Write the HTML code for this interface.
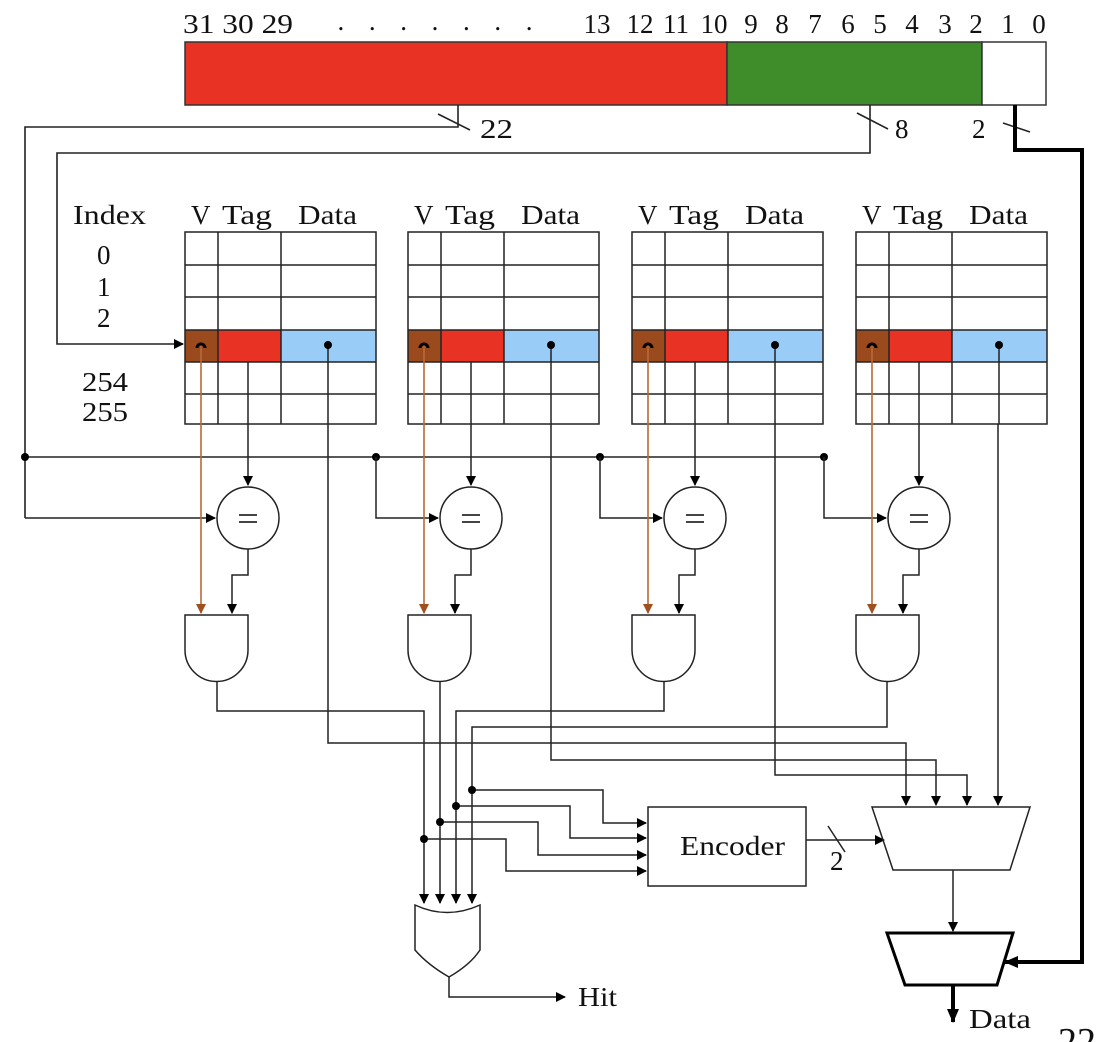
<!DOCTYPE html>
<html><head><meta charset="utf-8"><style>
html,body{margin:0;padding:0;background:#fff;}
svg{display:block;font-family:"Liberation Serif",serif;}
</style></head><body>
<svg width="1113" height="1042" viewBox="0 0 1113 1042" xmlns="http://www.w3.org/2000/svg">
<defs>
<marker id="a" markerWidth="10" markerHeight="10" refX="9" refY="5" orient="auto" markerUnits="userSpaceOnUse"><path d="M0,0 L10,5 L0,10 Z" fill="#000"/></marker>
<marker id="o" markerWidth="10" markerHeight="10" refX="9" refY="5" orient="auto" markerUnits="userSpaceOnUse"><path d="M0,0 L10,5 L0,10 Z" fill="#a0501e"/></marker>
<marker id="t" markerWidth="14" markerHeight="14" refX="13" refY="7" orient="auto" markerUnits="userSpaceOnUse"><path d="M0,1 L14,7 L0,13 Z" fill="#000"/></marker>
</defs>
<g font-size="27" fill="#111" text-anchor="middle" lengthAdjust="spacingAndGlyphs">
<text x="238" y="33" textLength="110" lengthAdjust="spacingAndGlyphs">31 30 29</text>
<text x="435" y="30" textLength="195" lengthAdjust="spacing">.......</text>
<text x="597" y="33">13</text><text x="640" y="33">12</text><text x="676" y="33">11</text><text x="714" y="33">10</text>
<text x="751" y="33">9</text><text x="782" y="33">8</text><text x="815" y="33">7</text><text x="848" y="33">6</text>
<text x="880" y="33">5</text><text x="912" y="33">4</text><text x="945" y="33">3</text><text x="976" y="33">2</text>
<text x="1008" y="33">1</text><text x="1039" y="33">0</text>
</g>
<rect x="185" y="42" width="542" height="63" fill="#e83223" stroke="#333" stroke-width="1.5"/>
<rect x="727" y="42" width="255" height="63" fill="#3f8c2b" stroke="#333" stroke-width="1.5"/>
<rect x="982" y="42" width="64" height="63" fill="#fff" stroke="#333" stroke-width="1.5"/>

<g fill="none" stroke="#222" stroke-width="1.6">
<polyline points="458,105 458,127 25,127 25,518"/>
<polyline points="25,518 215,518" marker-end="url(#a)"/>
<line x1="438" y1="114" x2="470" y2="130"/>
<polyline points="870,105 870,153 57,153 57,344 183,344" marker-end="url(#a)"/>
<line x1="857" y1="113" x2="888" y2="129"/>
<line x1="1003" y1="123" x2="1030" y2="132"/>
</g>
<polyline points="25,457 825,457" fill="none" stroke="#222" stroke-width="1.6"/>
<polyline points="1015,105 1015,150 1082,150 1082,962 1005,962" fill="none" stroke="#000" stroke-width="4" marker-end="url(#t)"/>
<g font-size="27" fill="#111">
<text x="480" y="138" textLength="33" lengthAdjust="spacingAndGlyphs">22</text><text x="895" y="138">8</text><text x="972" y="138">2</text>
<text x="73" y="224" textLength="73" lengthAdjust="spacingAndGlyphs">Index</text>
<text x="97" y="264">0</text><text x="97" y="296">1</text><text x="97" y="327">2</text>
<text x="82" y="391" textLength="46" lengthAdjust="spacingAndGlyphs">254</text><text x="82" y="421" textLength="46" lengthAdjust="spacingAndGlyphs">255</text>
</g>
<g fill="#000"><circle cx="25" cy="457" r="4"/><circle cx="376" cy="457" r="4"/><circle cx="600" cy="457" r="4"/><circle cx="824" cy="457" r="4"/></g>

<g transform="translate(185,0)">
<g font-size="27" fill="#111"><text x="6" y="224">V</text><text x="37" y="224" textLength="50" lengthAdjust="spacingAndGlyphs">Tag</text><text x="113" y="224" textLength="59" lengthAdjust="spacingAndGlyphs">Data</text></g>
<rect x="0" y="330" width="33" height="32" fill="#9a4a1c"/><rect x="33" y="330" width="63" height="32" fill="#e83223"/><rect x="96" y="330" width="95" height="32" fill="#99cdf7"/>
<g fill="none" stroke="#222" stroke-width="1.5">
<rect x="0" y="232" width="191" height="192"/>
<path d="M0,265H191M0,297H191M0,330H191M0,362H191M0,394H191M33,232V424M96,232V424"/>
<path d="M63,362V485" marker-end="url(#a)"/>
<path d="M143,345V424"/>
<circle cx="63" cy="518" r="31"/>
<path d="M63,549V575H47V613" marker-end="url(#a)"/>
<path d="M0,615H63V650A31.5,31.5 0 0 1 0,650Z"/>
</g>
<path d="M16,345V613" stroke="#b86a3c" stroke-width="1.6" fill="none" marker-end="url(#o)"/>
<path d="M12,348A4,4 0 0 1 20,348" stroke="#000" stroke-width="3" fill="none"/>
<circle cx="143" cy="345" r="4" fill="#000"/>
<path d="M54,515H72M54,522H72" stroke="#444" stroke-width="2"/>
</g>
<g transform="translate(408,0)">
<g font-size="27" fill="#111"><text x="6" y="224">V</text><text x="37" y="224" textLength="50" lengthAdjust="spacingAndGlyphs">Tag</text><text x="113" y="224" textLength="59" lengthAdjust="spacingAndGlyphs">Data</text></g>
<rect x="0" y="330" width="33" height="32" fill="#9a4a1c"/><rect x="33" y="330" width="63" height="32" fill="#e83223"/><rect x="96" y="330" width="95" height="32" fill="#99cdf7"/>
<g fill="none" stroke="#222" stroke-width="1.5">
<rect x="0" y="232" width="191" height="192"/>
<path d="M0,265H191M0,297H191M0,330H191M0,362H191M0,394H191M33,232V424M96,232V424"/>
<path d="M63,362V485" marker-end="url(#a)"/>
<path d="M143,345V424"/>
<circle cx="63" cy="518" r="31"/>
<path d="M63,549V575H47V613" marker-end="url(#a)"/>
<path d="M0,615H63V650A31.5,31.5 0 0 1 0,650Z"/>
<path d="M-32,457V518H30" marker-end="url(#a)"/>
</g>
<path d="M16,345V613" stroke="#b86a3c" stroke-width="1.6" fill="none" marker-end="url(#o)"/>
<path d="M12,348A4,4 0 0 1 20,348" stroke="#000" stroke-width="3" fill="none"/>
<circle cx="143" cy="345" r="4" fill="#000"/>
<path d="M54,515H72M54,522H72" stroke="#444" stroke-width="2"/>
</g>
<g transform="translate(632,0)">
<g font-size="27" fill="#111"><text x="6" y="224">V</text><text x="37" y="224" textLength="50" lengthAdjust="spacingAndGlyphs">Tag</text><text x="113" y="224" textLength="59" lengthAdjust="spacingAndGlyphs">Data</text></g>
<rect x="0" y="330" width="33" height="32" fill="#9a4a1c"/><rect x="33" y="330" width="63" height="32" fill="#e83223"/><rect x="96" y="330" width="95" height="32" fill="#99cdf7"/>
<g fill="none" stroke="#222" stroke-width="1.5">
<rect x="0" y="232" width="191" height="192"/>
<path d="M0,265H191M0,297H191M0,330H191M0,362H191M0,394H191M33,232V424M96,232V424"/>
<path d="M63,362V485" marker-end="url(#a)"/>
<path d="M143,345V424"/>
<circle cx="63" cy="518" r="31"/>
<path d="M63,549V575H47V613" marker-end="url(#a)"/>
<path d="M0,615H63V650A31.5,31.5 0 0 1 0,650Z"/>
<path d="M-32,457V518H30" marker-end="url(#a)"/>
</g>
<path d="M16,345V613" stroke="#b86a3c" stroke-width="1.6" fill="none" marker-end="url(#o)"/>
<path d="M12,348A4,4 0 0 1 20,348" stroke="#000" stroke-width="3" fill="none"/>
<circle cx="143" cy="345" r="4" fill="#000"/>
<path d="M54,515H72M54,522H72" stroke="#444" stroke-width="2"/>
</g>
<g transform="translate(856,0)">
<g font-size="27" fill="#111"><text x="6" y="224">V</text><text x="37" y="224" textLength="50" lengthAdjust="spacingAndGlyphs">Tag</text><text x="113" y="224" textLength="59" lengthAdjust="spacingAndGlyphs">Data</text></g>
<rect x="0" y="330" width="33" height="32" fill="#9a4a1c"/><rect x="33" y="330" width="63" height="32" fill="#e83223"/><rect x="96" y="330" width="95" height="32" fill="#99cdf7"/>
<g fill="none" stroke="#222" stroke-width="1.5">
<rect x="0" y="232" width="191" height="192"/>
<path d="M0,265H191M0,297H191M0,330H191M0,362H191M0,394H191M33,232V424M96,232V424"/>
<path d="M63,362V485" marker-end="url(#a)"/>
<path d="M143,345V424"/>
<circle cx="63" cy="518" r="31"/>
<path d="M63,549V575H47V613" marker-end="url(#a)"/>
<path d="M0,615H63V650A31.5,31.5 0 0 1 0,650Z"/>
<path d="M-32,457V518H30" marker-end="url(#a)"/>
</g>
<path d="M16,345V613" stroke="#b86a3c" stroke-width="1.6" fill="none" marker-end="url(#o)"/>
<path d="M12,348A4,4 0 0 1 20,348" stroke="#000" stroke-width="3" fill="none"/>
<circle cx="143" cy="345" r="4" fill="#000"/>
<path d="M54,515H72M54,522H72" stroke="#444" stroke-width="2"/>
</g>

<g fill="none" stroke="#222" stroke-width="1.5">
<path d="M217,681V711H424V903" marker-end="url(#a)"/>
<path d="M440,681V903" marker-end="url(#a)"/>
<path d="M664,681V711H456V903" marker-end="url(#a)"/>
<path d="M887,681V727H472V903" marker-end="url(#a)"/>
<path d="M328,424V743H906V805" marker-end="url(#a)"/>
<path d="M551,424V760H936V805" marker-end="url(#a)"/>
<path d="M775,424V775H967V805" marker-end="url(#a)"/>
<path d="M998,424V805" marker-end="url(#a)"/>
<path d="M472,790H603V823H646" marker-end="url(#a)"/>
<path d="M456,806H570V838H646" marker-end="url(#a)"/>
<path d="M440,822H538V855H646" marker-end="url(#a)"/>
<path d="M424,839H506V871H646" marker-end="url(#a)"/>
<rect x="648" y="807" width="158" height="79"/>
<path d="M806,840H884" marker-end="url(#a)"/>
<line x1="828" y1="826" x2="845" y2="852"/>
<path d="M872,807H1030L1010,870H893Z"/>
<path d="M953,870V931" marker-end="url(#a)"/>
<path d="M415,905Q447,920 480,905V950Q470,965 449,977Q428,965 415,950Z"/>
<path d="M449,977V997H565" marker-end="url(#a)"/>
</g>
<g fill="#000"><circle cx="472" cy="790" r="4"/><circle cx="456" cy="806" r="4"/><circle cx="440" cy="822" r="4"/><circle cx="424" cy="839" r="4"/></g>
<path d="M887,933H1013L997,985H905Z" fill="none" stroke="#000" stroke-width="3"/>
<path d="M953,985V1022" stroke="#000" stroke-width="4" marker-end="url(#t)"/>
<g font-size="27" fill="#111">
<text x="680" y="855" textLength="105" lengthAdjust="spacingAndGlyphs">Encoder</text>
<text x="830" y="870">2</text>
<text x="578" y="1006" textLength="39" lengthAdjust="spacingAndGlyphs">Hit</text>
<text x="969" y="1028" textLength="62" lengthAdjust="spacingAndGlyphs">Data</text>
<text x="1058" y="1054" font-size="38">22</text>
</g>
</svg>
</body></html>
